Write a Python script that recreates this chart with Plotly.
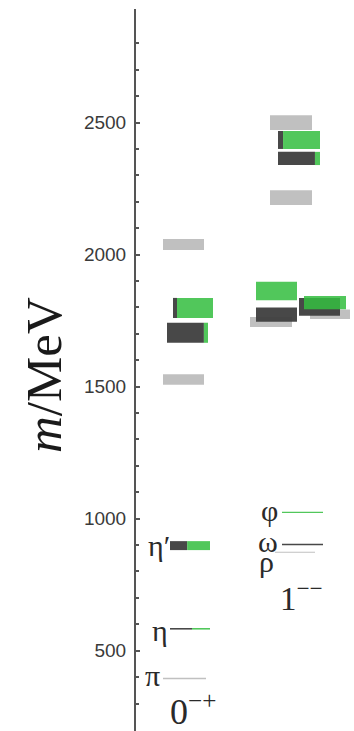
import plotly.graph_objects as go

# ---------------------------------------------------------------
# Meson levels (MeV): mass, uncertainty, light-quark fraction
# ---------------------------------------------------------------
# 0-+ isovector levels (gray)
ps_i1_mass = [395, 1527, 2038]
ps_i1_err = [3, 20, 21]
# 0-+ isoscalar levels (dark = light flavour, green = strange)
ps_i0_mass = [583, 898, 1704, 1798]
ps_i0_err = [3, 17, 38, 38]
ps_i0_light = [0.55, 0.43, 0.90, 0.10]

# 1-- isovector levels (gray)
v_i1_mass = [873, 1745, 1774, 2216, 2500]
v_i1_err = [2, 19, 18, 28, 28]
# 1-- isoscalar levels
v_i0_mass = [902, 1024, 1862, 1773, 1802, 1818, 2364, 2434]
v_i0_err = [3, 2.5, 35, 27, 34, 25, 25, 34]
v_i0_light = [1.0, 0.0, 0.0, 1.0, 1.0, 0.0, 0.88, 0.12]

tick_vals = [500, 1000, 1500, 2000, 2500]
tick_text = ["500", "1000", "1500", "2000", "2500"]

# ---------------------------------------------------------------
# horizontal placement (pixels to the right of the axis line)
# ---------------------------------------------------------------
AX = 136
ps_i1_x = [163, 163, 163]
ps_i1_w = [43, 41, 41]
ps_i0_x = [170, 170, 167, 173]
ps_i0_w = [40, 40, 41, 40]
v_i1_x = [275, 250, 310, 270, 270]
v_i1_w = [40, 42, 40, 42, 42]
v_i0_x = [282, 282, 256, 256, 299, 304, 278, 278]
v_i0_w = [41, 41, 41, 41, 41, 42, 42, 42]

GRAY = "rgba(185,185,185,0.9)"
DARK = "rgba(62,62,62,0.95)"
GREEN = "rgba(52,190,64,0.86)"

fig = go.Figure()
shapes = []


def rect(x0, x1, m, e, color):
    shapes.append(dict(type="rect", xref="x", yref="y",
                       x0=x0 - AX, x1=x1 - AX, y0=m - e, y1=m + e,
                       fillcolor=color, line=dict(width=0), layer="above"))


def split_box(x0, w, m, e, light):
    xm = x0 + light * w
    if light > 0:
        rect(x0, xm, m, e, DARK)
    if light < 1:
        rect(xm, x0 + w, m, e, GREEN)


# isovector levels drawn first so isoscalar boxes sit on top
for m, e, x, w in zip(ps_i1_mass, ps_i1_err, ps_i1_x, ps_i1_w):
    rect(x, x + w, m, e, GRAY)
for m, e, x, w in zip(v_i1_mass, v_i1_err, v_i1_x, v_i1_w):
    rect(x, x + w, m, e, GRAY)

# isoscalar: mostly-light boxes first, strange-dominated ones over them
ps_items = list(zip(ps_i0_mass, ps_i0_err, ps_i0_light, ps_i0_x, ps_i0_w))
v_items = list(zip(v_i0_mass, v_i0_err, v_i0_light, v_i0_x, v_i0_w))
for m, e, f, x, w in sorted(ps_items + v_items, key=lambda t: -t[2]):
    split_box(x, w, m, e, f)

# invisible trace so the axes are set up
fig.add_trace(go.Scatter(x=[0], y=[1000], mode="markers",
                         marker=dict(opacity=0), hoverinfo="skip",
                         showlegend=False))

SERIF = "Liberation Serif"
INK = "#2a2a2a"

annotations = []


def label(text, x_right, m, yshift=0, size=30):
    annotations.append(dict(text=text, x=x_right - AX, y=m, xref="x", yref="y",
                            xanchor="right", yanchor="middle", showarrow=False,
                            yshift=yshift,
                            font=dict(family=SERIF, size=size, color=INK)))


label("π", 162, ps_i1_mass[0], yshift=3)
label("η", 170, ps_i0_mass[0], yshift=-2)
label("η′", 172, ps_i0_mass[1], yshift=0)
label("φ", 280, v_i0_mass[1], yshift=2)
label("ω", 280, v_i0_mass[0], yshift=3)
label("ρ", 276, v_i1_mass[0], yshift=-9)

annotations.append(dict(text="0<sup>−+</sup>", x=(193 - AX), y=279,
                        xref="x", yref="y", xanchor="center", yanchor="middle",
                        showarrow=False, font=dict(family=SERIF, size=36, color=INK)))
annotations.append(dict(text="1<sup>−−</sup>", x=(301 - AX), y=707,
                        xref="x", yref="y", xanchor="center", yanchor="middle",
                        showarrow=False, font=dict(family=SERIF, size=33, color=INK)))

# axis title
annotations.append(dict(text="<i>m</i>/MeV", x=(44 - AX) / 218, y=1 - (375 - 9) / 722,
                        xref="paper", yref="paper", xanchor="center", yanchor="middle",
                        textangle=-90, showarrow=False,
                        font=dict(family=SERIF, size=51, color="#1a1a1a")))

fig.update_layout(
    width=354, height=731,
    margin=dict(l=AX, r=0, t=9, b=0),
    paper_bgcolor="white", plot_bgcolor="white",
    shapes=shapes, annotations=annotations,
    showlegend=False,
    xaxis=dict(range=[0, 218], visible=False, fixedrange=True),
    yaxis=dict(range=[196, 2930], showgrid=False, zeroline=False,
               showline=True, linecolor="#555555", linewidth=2,
               ticks="inside", ticklen=4, tickwidth=1.5, tickcolor="#555555",
               tickvals=tick_vals, ticktext=tick_text,
               tickfont=dict(family="Liberation Sans", size=19, color="#3a3a3a"),
               ticklabelstandoff=4,
               minor=dict(tickvals=list(range(300, 2900, 100)), ticks="inside",
                          ticklen=3, tickwidth=1.5, tickcolor="#555555"),
               fixedrange=True),
)

fig.write_html("out.html")
